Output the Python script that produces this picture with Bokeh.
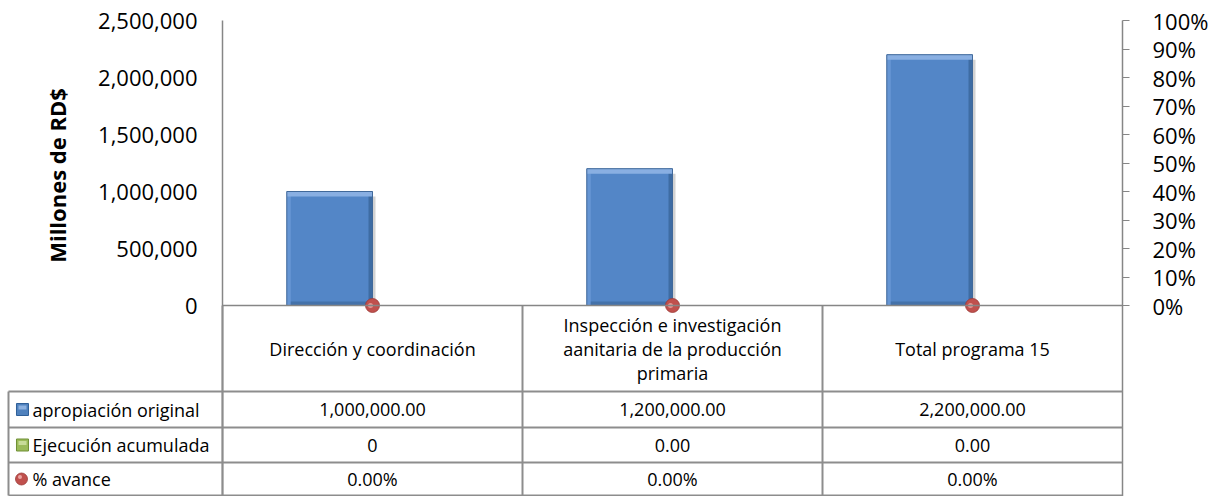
import math
from bokeh.plotting import figure
from bokeh.models import (Range1d, FactorRange, LinearAxis, FixedTicker,
                          NumeralTickFormatter, Span, ColumnDataSource)
from bokeh.transform import dodge
from bokeh.core.properties import value
from bokeh.embed import file_html
from bokeh.resources import INLINE

# ---------------- data ----------------
categories = ["Dirección y coordinación",
              "Inspección e investigación aanitaria de la producción primaria",
              "Total programa 15"]
category_labels = ["Dirección y coordinación",
                   "Inspección e investigación\naanitaria de la producción\nprimaria",
                   "Total programa 15"]
apropiacion = [1000000.0, 1200000.0, 2200000.0]
ejecucion = [0.0, 0.0, 0.0]
avance = [0.0, 0.0, 0.0]
ejecucion_text = ["0", "0.00", "0.00"]
series_names = ["apropiación original", "Ejecución acumulada", "% avance"]
left_ticks = [0, 500000, 1000000, 1500000, 2000000, 2500000]
right_ticks = [0.0, 0.1, 0.2, 0.3, 0.4, 0.5, 0.6, 0.7, 0.8, 0.9, 1.0]

# ---------------- layout constants (page pixels) ----------------
FONT = "Open Sans"
W, H = 1213, 496
PAGE_BOT = H
FR_LEFT, FR_RIGHT, FR_TOP = 222, 1122, 20
ZERO_Y = 305
YMAX = left_ticks[-1]
px_y = YMAX / (ZERO_Y - FR_TOP)
ymin = -(PAGE_BOT - ZERO_Y) * px_y
CAT_PX = (FR_RIGHT - FR_LEFT) / 3.0
px_x = 1.0 / CAT_PX


def sx(page_x):
    """page x pixel -> synthetic categorical coordinate"""
    return (page_x - FR_LEFT) / CAT_PX


BW = 1 / 3.5                        # bar width (gap width 150 %)
GRID = "#8d8d8d"
AXC = "#868686"
ROWS = [391, 427, 462, 495]
HEADER_Y = (ZERO_Y + ROWS[0]) / 2
ROW_C = [(ROWS[i] + ROWS[i + 1]) / 2 for i in range(3)]
TFS = "18px"

src = ColumnDataSource(dict(
    cat=categories,
    label=category_labels,
    apr=apropiacion,
    eje=ejecucion,
    av=avance,
    apr_top=[v - 5 * px_y for v in apropiacion],
    apr_txt=["{:,.2f}".format(v) for v in apropiacion],
    eje_txt=ejecucion_text,
    av_txt=["{:.2%}".format(v) for v in avance],
    hy=[HEADER_Y] * len(categories),
    r0=[ROW_C[0]] * len(categories),
    r1=[ROW_C[1]] * len(categories),
    r2=[ROW_C[2]] * len(categories),
))

p = figure(width=W, height=H, x_range=FactorRange(factors=categories),
           y_range=Range1d(ymin, YMAX), output_backend="svg",
           toolbar_location=None, x_axis_location=None,
           min_border_left=FR_LEFT, min_border_right=W - FR_RIGHT,
           min_border_top=FR_TOP, min_border_bottom=0)
p.outline_line_color = None
p.grid.visible = False
p.background_fill_color = "white"
p.border_fill_color = "white"
p.extra_y_ranges = {"pct": Range1d(-(PAGE_BOT - ZERO_Y) / (ZERO_Y - FR_TOP), 1.0),
                    "tab": Range1d(PAGE_BOT, FR_TOP)}

ya = p.yaxis[0]
ya.ticker = FixedTicker(ticks=left_ticks)
ya.formatter = NumeralTickFormatter(format="0,0")
ya.major_tick_line_color = None
ya.major_tick_out = 0
ya.major_tick_in = 0
ya.minor_tick_line_color = None
ya.axis_line_color = AXC
ya.axis_line_width = 1.5
ya.major_label_text_font = FONT
ya.major_label_text_font_size = "22px"
ya.major_label_text_color = "#000000"
ya.major_label_standoff = 25

ra = LinearAxis(y_range_name="pct", ticker=FixedTicker(ticks=right_ticks),
                formatter=NumeralTickFormatter(format="0%"))
ra.major_tick_out = 7
ra.major_tick_in = 0
ra.major_tick_line_color = AXC
ra.major_tick_line_width = 1.2
ra.minor_tick_line_color = None
ra.axis_line_color = AXC
ra.axis_line_width = 1.5
ra.major_label_text_font = FONT
ra.major_label_text_font_size = "22px"
ra.major_label_text_color = "#000000"
ra.major_label_standoff = 23
p.add_layout(ra, "right")

# y axis title (placed beside the value axis part only)
p.text(x=[sx(56)], y=[175], text=["Millones de RD$"], angle=math.pi / 2,
       y_range_name="tab", text_align="center",
       text_baseline="middle", text_font=value(FONT), text_font_size="22px",
       text_font_style="bold", text_color="#000000", level="annotation")

# zero line = top of header row
p.add_layout(Span(location=0, dimension="width", line_color=AXC, line_width=1.5))

# bars: apropiación original with a bevel look
off = -BW / 2
p.vbar(x=dodge("cat", off + BW / 2 + 1.5 * px_x, range=p.x_range), top="apr_top",
       bottom=0, width=3 * px_x, source=src, fill_color="#d2d2d2", line_color=None)
p.vbar(x=dodge("cat", off, range=p.x_range), top="apr", bottom=0, width=BW,
       source=src, fill_color="#5386C7", line_color=None)
p.vbar(x=dodge("cat", off - BW / 2 + 2 * px_x, range=p.x_range), top="apr",
       bottom=0, width=4 * px_x, source=src, fill_color="#6696D4", line_color=None)
p.vbar(x=dodge("cat", off + BW / 2 - 2 * px_x, range=p.x_range), top="apr",
       bottom=0, width=4 * px_x, source=src, fill_color="#3E6CA3", line_color=None)
p.vbar(x=dodge("cat", off, range=p.x_range), top=4 * px_y, bottom=0,
       width=BW - 8 * px_x, source=src, fill_color="#4472AA", line_color=None)
p.vbar(x=dodge("cat", off, range=p.x_range), top="apr", bottom="apr_top",
       width=BW, source=src, fill_color="#89AFE2", line_color=None)
p.vbar(x=dodge("cat", off, range=p.x_range), top="apr", bottom=0,
       width=BW, source=src, line_color="#41699A", line_width=1, fill_color=None)
# Ejecución acumulada (zero height)
p.vbar(x=dodge("cat", BW / 2, range=p.x_range), top="eje", bottom=0, width=BW,
       source=src, fill_color="#9BBB59", line_color=None)

# ---------------- data table ----------------
n = len(categories)
# vertical separators between categories
p.segment(x0=list(range(1, n)), x1=list(range(1, n)), y0=[ZERO_Y] * (n - 1),
          y1=[ROWS[-1]] * (n - 1), y_range_name="tab", line_color=GRID,
          line_width=2, level="annotation")
# left border and first column separator / horizontal rules
p.segment(x0=[sx(8)], x1=[sx(8)], y0=[ROWS[0]], y1=[ROWS[-1]],
          y_range_name="tab", line_color=GRID, line_width=2, level="annotation")
p.segment(x0=[0], x1=[0], y0=[ZERO_Y], y1=[ROWS[-1]],
          y_range_name="tab", line_color=GRID, line_width=2, level="annotation")
p.segment(x0=[sx(8)] * 4, x1=[n] * 4, y0=ROWS, y1=ROWS,
          y_range_name="tab", line_color=GRID, line_width=2, level="annotation")

# header texts
p.text(x="cat", y="hy", text="label", source=src, y_range_name="tab",
       text_align="center", text_baseline="middle", text_font=value(FONT),
       text_font_size=TFS, text_color="#000000", text_line_height=1.0,
       level="annotation")
# values
for col, yc in (("apr_txt", "r0"), ("eje_txt", "r1"), ("av_txt", "r2")):
    p.text(x="cat", y=yc, text=col, source=src, y_range_name="tab",
           text_align="center", text_baseline="middle", text_font=value(FONT),
           text_font_size=TFS, text_color="#000000", level="annotation")

# row labels and legend keys
p.text(x=[sx(32)] * 3, y=ROW_C, text=series_names,
       y_range_name="tab", text_align="left", text_baseline="middle",
       text_font=value(FONT), text_font_size=TFS, text_color="#000000",
       level="annotation")
p.rect(x=[sx(22)], y=[ROW_C[0]], width=12, height=12, width_units="screen",
       height_units="screen", y_range_name="tab", fill_color="#4F81BD",
       line_color="#2F5F98", line_width=1, level="annotation")
p.rect(x=[sx(22)], y=[ROW_C[0] - 2], width=8, height=4, width_units="screen",
       height_units="screen", y_range_name="tab", fill_color="#8DB1E0",
       line_color=None, level="annotation")
p.rect(x=[sx(22)], y=[ROW_C[1]], width=12, height=12, width_units="screen",
       height_units="screen", y_range_name="tab", fill_color="#9BBB59",
       line_color="#6F8F35", line_width=1, level="annotation")
p.rect(x=[sx(22)], y=[ROW_C[1] - 2], width=8, height=4, width_units="screen",
       height_units="screen", y_range_name="tab", fill_color="#C8DC98",
       line_color=None, level="annotation")
p.ellipse(x=[sx(21)], y=[ROW_C[2]], width=12, height=12, width_units="screen",
          height_units="screen", y_range_name="tab", fill_color="#C0504D",
          line_color="#9C3A37", line_width=0.8, level="annotation")
p.ellipse(x=[sx(19.5)], y=[ROW_C[2] - 2], width=4, height=4,
          width_units="screen", height_units="screen", y_range_name="tab",
          fill_color="#EBA6A3", line_color=None, level="annotation")

# % avance points (on top of the zero line)
p.scatter(x="cat", y="av", y_range_name="pct", source=src, size=14,
          fill_color="#C0504D", line_color="#9C3A37", line_width=0.8,
          level="annotation")
p.scatter(x=dodge("cat", -2 * px_x, range=p.x_range), y="av",
          y_range_name="pct", source=src, size=5, fill_color="#EBA6A3",
          line_color=None, fill_alpha=0.8, level="annotation")

open("out.html", "w").write(file_html(p, INLINE))
